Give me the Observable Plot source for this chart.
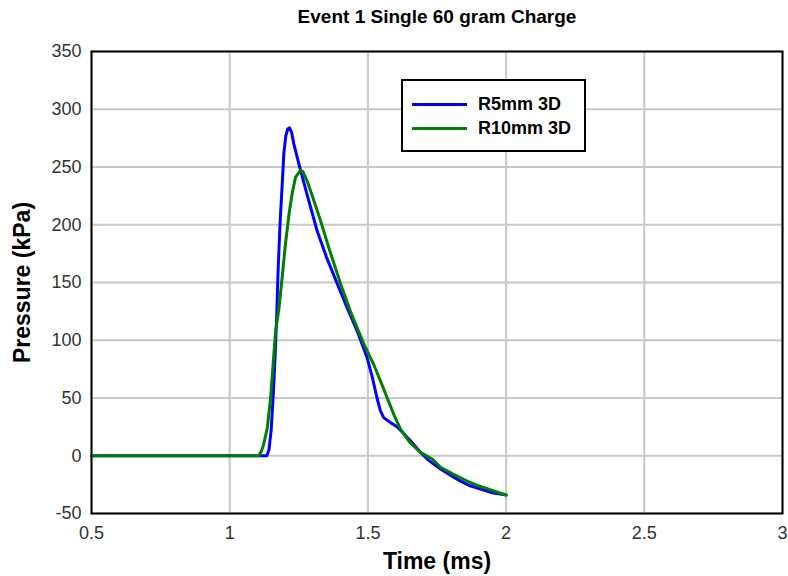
<!DOCTYPE html>
<html>
<head>
<meta charset="utf-8">
<script src="https://cdn.jsdelivr.net/npm/d3@7"></script>
<script src="https://cdn.jsdelivr.net/npm/@observablehq/plot@0.6"></script>
<style>
  html, body { margin: 0; padding: 0; background: #fff; }
  #wrap { position: relative; width: 788px; height: 576px; font-family: "Liberation Sans", Arial, sans-serif; }
  #title { height: 34px; line-height: 34px; text-align: center; font-weight: bold; font-size: 19px; color: #000; padding-left: 86px; }
  #legend { position: absolute; left: 401px; top: 79px; width: 181px; height: 69px; border: 2px solid #000; background: #fff; }
  .item { position: absolute; left: 9px; height: 20px; display: flex; align-items: center; font-weight: bold; font-size: 18px; white-space: nowrap; }
  .sw { width: 55px; height: 3px; margin-right: 11px; }
</style>
</head>
<body>
<div id="wrap">
  <div id="title">Event 1 Single 60 gram Charge</div>
  <div id="chart"></div>
  <div id="legend"></div>
</div>
<script>
const seriesNames = ["R5mm 3D", "R10mm 3D"];
const seriesColors = ["#0000ff", "#008000"];

const r5Time = [0.5, 1.0, 1.12, 1.134, 1.142, 1.15, 1.157, 1.164, 1.17, 1.175, 1.183, 1.19, 1.196, 1.203, 1.21, 1.216, 1.224, 1.232, 1.25, 1.28, 1.316, 1.35, 1.389, 1.425, 1.461, 1.497, 1.515, 1.533, 1.545, 1.557, 1.58, 1.606, 1.63, 1.654, 1.69, 1.72, 1.76, 1.8, 1.835, 1.87, 1.91, 1.95, 2.0];
const r5Pressure = [0, 0, 0, 0, 5, 22, 50, 85, 120, 160, 205, 235, 262, 277, 283, 284, 280, 270, 253, 226, 195, 172, 149, 128, 108, 85, 69, 50, 39, 33, 29, 25, 19, 13, 3, -4, -11, -17, -22, -26, -29, -32, -34];

const r10Time = [0.5, 1.0, 1.105, 1.115, 1.123, 1.136, 1.148, 1.157, 1.166, 1.178, 1.19, 1.202, 1.215, 1.226, 1.238, 1.256, 1.265, 1.28, 1.3, 1.328, 1.36, 1.401, 1.44, 1.485, 1.521, 1.545, 1.57, 1.595, 1.618, 1.65, 1.69, 1.734, 1.763, 1.81, 1.859, 1.9, 1.95, 2.0];
const r10Pressure = [0, 0, 0, 4, 10, 24, 50, 79, 108, 127, 155, 184, 210, 227, 241, 247, 246, 238, 224, 204, 179, 149, 123, 97, 79, 65, 50, 35, 23, 12, 3, -3, -10, -16, -22, -26, -30, -34];

const xTicks = [0.5, 1, 1.5, 2, 2.5, 3];
const yTicks = [-50, 0, 50, 100, 150, 200, 250, 300, 350];

const data = [
  ...r5Time.map((t, i) => ({t, p: r5Pressure[i], s: seriesNames[0]})),
  ...r10Time.map((t, i) => ({t, p: r10Pressure[i], s: seriesNames[1]}))
];

const chart = Plot.plot({
  width: 788,
  height: 542,
  marginTop: 17,
  marginBottom: 63,
  marginLeft: 91,
  marginRight: 6,
  style: { fontFamily: "'Liberation Sans', Arial, sans-serif", background: "#fff", color: "#000" },
  x: { domain: [0.5, 3], ticks: xTicks },
  y: { domain: [-50, 350], ticks: yTicks },
  color: { domain: seriesNames, range: seriesColors },
  marks: [
    Plot.gridX(xTicks, { stroke: "#c8c8c8", strokeOpacity: 1, strokeWidth: 2 }),
    Plot.gridY(yTicks, { stroke: "#c8c8c8", strokeOpacity: 1, strokeWidth: 2 }),
    Plot.axisX(xTicks, { tickSize: 0, tickPadding: 13, fontSize: 18, fill: "#333", label: null, tickFormat: d => String(d) }),
    Plot.axisY(yTicks, { tickSize: 0, tickPadding: 10, fontSize: 18, fill: "#333", label: null, tickFormat: d => String(d) }),
    Plot.line(data, { x: "t", y: "p", z: "s", stroke: "s", strokeWidth: 3, curve: "linear" }),
    Plot.frame({ stroke: "#000", strokeWidth: 2 }),
    Plot.text(["Pressure (kPa)"], { frameAnchor: "left", textAnchor: "middle", dx: -69, rotate: -90, fontSize: 23, fontWeight: "bold", fill: "#000" }),
    Plot.text(["Time (ms)"], { frameAnchor: "bottom", dy: 55, fontSize: 23, fontWeight: "bold", fill: "#000" })
  ]
});
document.getElementById("chart").appendChild(chart);

const legend = document.getElementById("legend");
seriesNames.forEach((name, i) => {
  const it = document.createElement("div");
  it.className = "item";
  it.style.top = (13 + i * 24) + "px";
  const sw = document.createElement("div");
  sw.className = "sw";
  sw.style.background = seriesColors[i];
  const lab = document.createElement("span");
  lab.textContent = name;
  it.appendChild(sw);
  it.appendChild(lab);
  legend.appendChild(it);
});
</script>
</body>
</html>
